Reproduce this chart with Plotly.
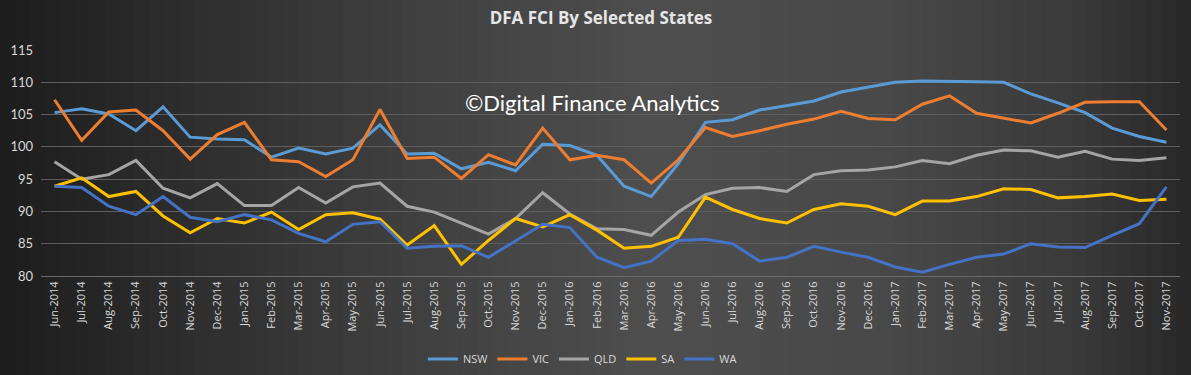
import plotly.graph_objects as go

months = ["Jun-2014","Jul-2014","Aug-2014","Sep-2014","Oct-2014","Nov-2014","Dec-2014",
          "Jan-2015","Feb-2015","Mar-2015","Apr-2015","May-2015","Jun-2015","Jul-2015",
          "Aug-2015","Sep-2015","Oct-2015","Nov-2015","Dec-2015","Jan-2016","Feb-2016",
          "Mar-2016","Apr-2016","May-2016","Jun-2016","Jul-2016","Aug-2016","Sep-2016",
          "Oct-2016","Nov-2016","Dec-2016","Jan-2017","Feb-2017","Mar-2017","Apr-2017",
          "May-2017","Jun-2017","Jul-2017","Aug-2017","Sep-2017","Oct-2017","Nov-2017"]

nsw = [105.3,105.9,105.1,102.5,106.2,101.5,101.2,101.1,98.4,99.8,98.9,
       99.8,103.4,98.9,99.0,96.6,97.6,96.3,100.4,100.2,98.7,
       93.9,92.3,97.4,103.8,104.2,105.7,106.4,107.1,108.5,109.2,
       110.0,110.2,110.2,110.1,110.0,108.2,106.8,105.3,102.9,101.6,100.7]
vic = [107.3,101.0,105.4,105.7,102.5,98.1,101.9,103.8,98.0,97.7,95.4,
       98.0,105.8,98.2,98.4,95.1,98.8,97.2,102.9,98.0,98.7,
       98.0,94.4,98.0,103.0,101.6,102.5,103.5,104.3,105.5,104.4,
       104.2,106.6,107.9,105.2,104.5,103.7,105.2,106.9,107.0,107.0,102.6]
qld = [97.7,95.0,95.7,97.9,93.6,92.1,94.3,90.9,90.9,93.7,91.3,
       93.8,94.4,90.8,89.9,88.2,86.5,88.9,92.9,89.6,87.3,
       87.2,86.3,89.9,92.6,93.6,93.7,93.1,95.7,96.3,96.4,
       96.9,97.9,97.4,98.7,99.5,99.4,98.4,99.3,98.1,97.9,98.3]
sa = [93.9,95.2,92.3,93.1,89.3,86.7,88.9,88.2,89.9,87.2,89.5,
      89.8,88.8,84.8,87.8,81.8,85.5,88.9,87.6,89.5,87.1,
      84.3,84.6,86.0,92.2,90.3,88.9,88.2,90.3,91.2,90.8,
      89.5,91.6,91.6,92.3,93.5,93.4,92.1,92.3,92.7,91.7,91.9]
wa = [93.9,93.7,90.8,89.5,92.3,89.1,88.4,89.5,88.7,86.6,85.3,
      88.0,88.4,84.3,84.6,84.7,82.9,85.5,88.0,87.5,82.9,
      81.3,82.3,85.5,85.7,85.0,82.3,82.9,84.6,83.7,82.9,
      81.4,80.6,81.8,82.9,83.4,85.0,84.5,84.4,86.3,88.1,93.8]

series = [("NSW", nsw, "#5B9BD5"), ("VIC", vic, "#ED7D31"), ("QLD", qld, "#A5A5A5"),
          ("SA", sa, "#FFC000"), ("WA", wa, "#4472C4")]

y_ticks = [80, 85, 90, 95, 100, 105, 110, 115]

W, H = 1191, 375
L, R, T, B = 41, 11, 50, 99
pw, ph = W - L - R, H - T - B

fig = go.Figure()
for name, vals, col in series:
    fig.add_trace(go.Scatter(x=months, y=vals, name=name, mode="lines",
                             line=dict(color=col, width=3)))

# background gradient (horizontal) approximating the reference
stops = [(0.0, 28), (0.12, 42), (0.35, 64), (0.55, 78), (0.75, 72), (0.9, 58), (1.0, 40)]
def level(f):
    for (a, va), (b, vb) in zip(stops[:-1], stops[1:]):
        if a <= f <= b:
            return va + (vb - va) * (f - a) / (b - a)
    return stops[-1][1]

N = 80
shapes = []
x_left = -L / pw
x_right = 1 + R / pw
for k in range(N):
    f0 = k / N
    f1 = (k + 1) / N
    v = int(round(level((f0 + f1) / 2)))
    x0 = x_left + (x_right - x_left) * f0
    x1 = x_left + (x_right - x_left) * f1 + 0.001
    if k == 0:
        x0 -= 0.05
    if k == N - 1:
        x1 += 0.05
    shapes.append(dict(type="rect", xref="paper", yref="paper", x0=x0, x1=x1,
                       y0=-1.0, y1=1.5, layer="below", line=dict(width=0),
                       fillcolor=f"rgb({v},{v},{v})"))

fig.update_layout(
    width=W, height=H,
    margin=dict(l=L, r=R, t=T, b=B, pad=0, autoexpand=False),
    paper_bgcolor="#3c3c3c",
    plot_bgcolor="rgba(0,0,0,0)",
    shapes=shapes,
    font=dict(family="Lato, Open Sans, sans-serif", color="#d9d9d9"),
    title=dict(text="<b>DFA FCI By Selected States</b>", x=(601) / W, xanchor="center",
               y=1 - 18 / H, yanchor="middle",
               font=dict(size=17, color="#e6e6e6", family="Open Sans, Lato, sans-serif")),
    xaxis=dict(type="category", range=[-0.5, len(months) - 0.5], tickangle=-90,
               showgrid=False, showline=True, linecolor="#6a6a6a", linewidth=1,
               ticks="", tickfont=dict(size=11, color="#d9d9d9", family="Open Sans, sans-serif"),
               zeroline=False, automargin=False),
    yaxis=dict(range=[80, 115], tickvals=y_ticks, showgrid=True, gridcolor="#5e5e5e",
               gridwidth=1, showline=False, zeroline=False, ticks="",
               tickfont=dict(size=13, color="#d9d9d9", family="Lato, sans-serif"),
               ticklabelstandoff=7, automargin=False),
    legend=dict(orientation="h", x=0.489, xanchor="center", xref="container",
                y=1 - 359 / H, yanchor="middle", yref="container",
                font=dict(size=11, color="#d9d9d9", family="Open Sans, sans-serif"),
                bgcolor="rgba(0,0,0,0)", itemwidth=30, tracegroupgap=0),
    annotations=[dict(text="©Digital Finance Analytics", xref="paper", yref="paper",
                      x=(592 - L) / pw, y=(H - 102 - B) / ph, xanchor="center", yanchor="middle",
                      showarrow=False, font=dict(size=22, color="#ffffff", family="Lato, sans-serif"))],
)

fig.write_html("out.html", config={"displayModeBar": False},
               post_script="document.body.style.margin='0';document.body.style.overflow='hidden';document.body.style.background='#2a2a2a';")
